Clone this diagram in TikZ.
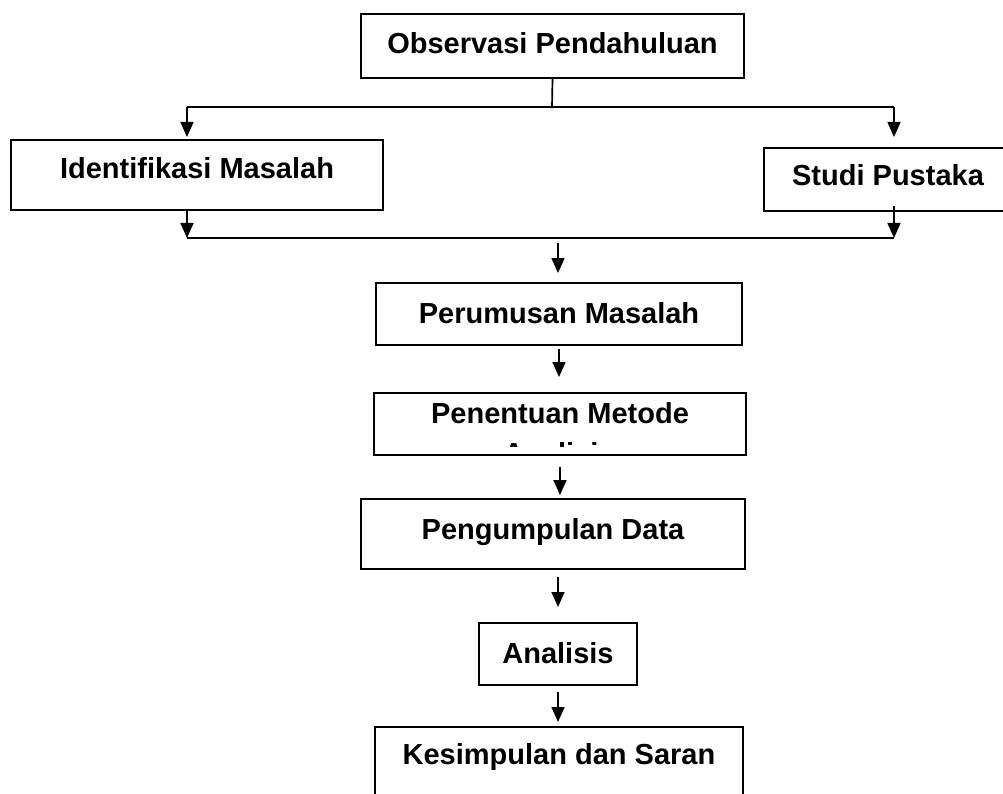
\documentclass[tikz,border=0pt]{standalone}
\usepackage{fontspec}
\setmainfont{Liberation Sans}
\usepackage{tikz}
\usetikzlibrary{
    arrows.meta,
    calc,
    positioning
}

\tikzset{
    stepbox/.style={draw, line width=2pt, inner sep=0pt, anchor=north west,
        font=\fontsize{29}{34}\selectfont\bfseries},
    arr/.style={line width=1.7pt, -{Triangle[length=15pt,width=13pt]}},
    ln/.style={line width=1.7pt}
}

\begin{document}
\begin{tikzpicture}[x=1pt, y=-1pt]
    \useasboundingbox (0,0) rectangle (1003,794);

    % kotak-kotak
    \node[stepbox, minimum width=383pt, text height=40pt, text depth=24pt] (obs) at (360,13) {Observasi Pendahuluan};
    \node[stepbox, minimum width=372pt, text height=39pt, text depth=31pt] (iden) at (10,139) {Identifikasi Masalah};
    \node[stepbox, minimum width=248pt, text height=38pt, text depth=25pt] (studi) at (763,147) {Studi Pustaka};
    \node[stepbox, minimum width=366pt, text height=40pt, text depth=22pt] (rumus) at (375,282) {Perumusan Masalah};
    \node[stepbox, minimum width=372pt, text height=30pt, text depth=32pt] (metode) at (373,392) {Penentuan Metode};
    \begin{scope}
        \clip (373,392) rectangle (745,446);
        \node[font=\fontsize{29}{34}\selectfont\bfseries, inner sep=0pt, anchor=base] (metode2) at (559,463) {Analisis};
    \end{scope}
    \node[stepbox, minimum width=384pt, text height=40pt, text depth=30pt] (kumpul) at (360,498) {Pengumpulan Data};
    \node[stepbox, minimum width=158pt, text height=40pt, text depth=22pt] (anal) at (478,622) {Analisis};
    \node[stepbox, minimum width=368pt, text height=37pt, text depth=70pt] (simpul) at (374,726) {Kesimpulan dan Saran};

    % cabang atas
    \coordinate (split) at (552,107);
    \coordinate (sl) at (187,107);
    \coordinate (sr) at (894,107);
    \coordinate (tl) at (187,137);
    \coordinate (tr) at (894,137);
    \draw[ln] (obs.south) -- (split);
    \draw[ln] (sl) -- (sr);
    \draw[arr] (sl) -- (tl);
    \draw[arr] (sr) -- (tr);

    % gabung
    \coordinate (jl) at (187,238);
    \coordinate (jr) at (894,238);
    \coordinate (js) at (894,206);
    \coordinate (m1) at (558,243);
    \coordinate (m2) at (558,273);
    \draw[arr] (iden.south -| jl) -- (jl);
    \draw[arr] (js) -- (jr);
    \draw[ln] (jl) -- (jr);
    \draw[arr] (m1) -- (m2);

    % alur ke bawah
    \draw[arr] ([yshift=-3pt]rumus.south) -- ++(0,28);
    \draw[arr] ([yshift=-11pt]metode.south) -- ++(0,28);
    \draw[arr] ([yshift=-7pt]kumpul.south -| anal.north) -- ++(0,30);
    \draw[arr] ([yshift=-6pt]anal.south) -- ++(0,30);
\end{tikzpicture}
\end{document}
